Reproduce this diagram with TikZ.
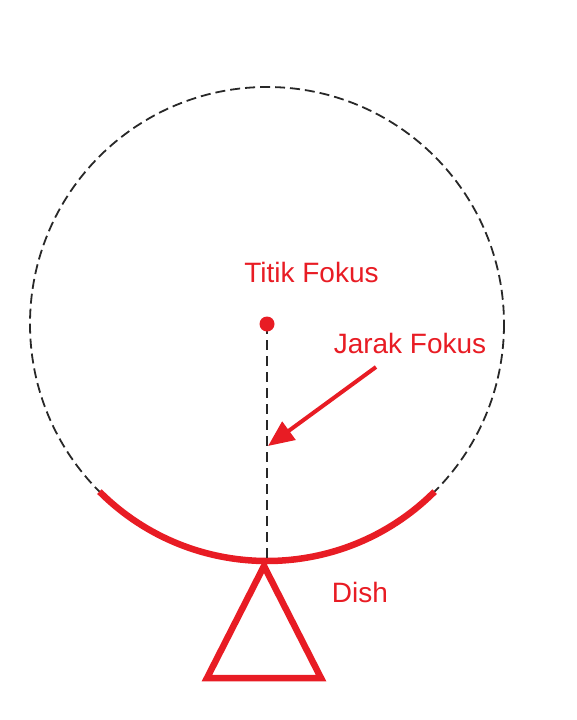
\documentclass[tikz,border=0pt]{standalone}
\usepackage{fontspec}
\setmainfont{Liberation Sans}
\usetikzlibrary{arrows.meta}
\definecolor{fred}{RGB}{232,28,36}
\definecolor{dgray}{RGB}{40,40,40}
\begin{document}
\begin{tikzpicture}[x=1pt,y=-1pt,
  lbl/.style={text=fred,font=\fontsize{28}{32}\selectfont,anchor=base,inner sep=0pt},
  dashcirc/.style={draw=dgray,line width=1.8pt,dash pattern=on 10pt off 5pt},
  thickred/.style={draw=fred,line width=6.5pt}]
\useasboundingbox (0,0) rectangle (576,720);
\coordinate (c) at (267,324);
\coordinate (b) at (267,561);
\draw[dashcirc] (c) circle[radius=237];
\draw[thickred] (c) ++(135:237) arc[start angle=135,end angle=45,radius=237];
\node[lbl] (tf) at (311.5,282) {Titik Fokus};
\node[lbl] (jf) at (410,353) {Jarak Fokus};
\node[lbl] (dish) at (360,602) {Dish};
\draw[dashcirc,dash pattern=on 10pt off 6pt] (c) -- (b);
\node[circle,fill=fred,minimum size=15pt,inner sep=0pt] (dot) at (c) {};
\draw[thickred,line join=miter] (264,566) -- (207,678) -- (321,678) -- cycle;
\coordinate (as) at (376,367);
\coordinate (ae) at (268,446);
\draw[draw=fred,line width=4pt,-{Triangle[length=26pt,width=22pt]}] (as) -- (ae);
\end{tikzpicture}
\end{document}
